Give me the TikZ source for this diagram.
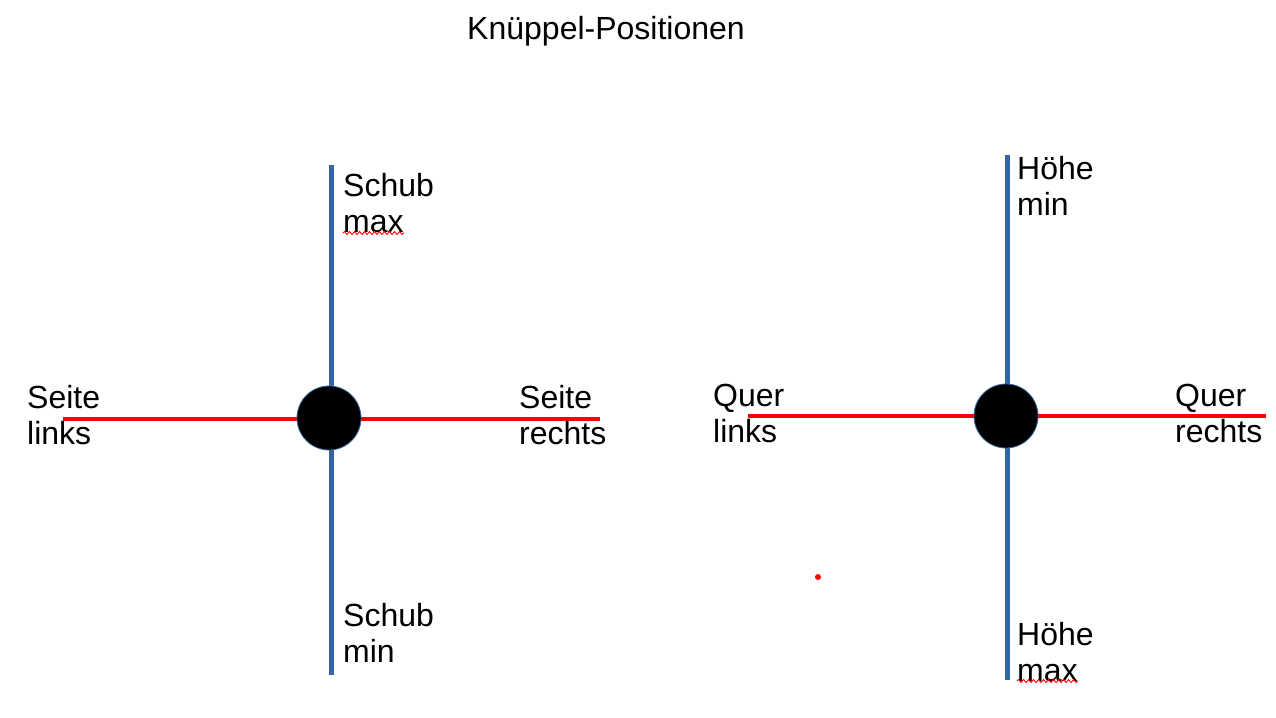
\documentclass[tikz,border=0pt]{standalone}
\usepackage{fontspec}
\setmainfont{Liberation Sans}
\usetikzlibrary{decorations.pathmorphing}
\definecolor{axisblue}{HTML}{3465A4}
\definecolor{axisred}{HTML}{FF0000}
\begin{document}
\begin{tikzpicture}[x=1pt,y=-1pt,
  lbl/.style={anchor=north west, inner sep=0pt, align=left, font=\fontsize{32}{36}\selectfont},
  vaxis/.style={draw=axisblue, line width=5pt},
  haxis/.style={draw=axisred, line width=4.5pt},
  knob/.style={circle, fill=black, draw=axisblue, line width=0.8pt, minimum size=64pt, inner sep=0pt},
  spell/.style={draw=axisred, line width=0.9pt, decorate, decoration={snake, amplitude=1.5pt, segment length=5pt}}]
\useasboundingbox (0,0) rectangle (1276,717);
\node[anchor=north, inner sep=0pt, font=\fontsize{32}{36}\selectfont] (title) at (606,16) {Knüppel-Positionen};
% left stick
\coordinate (lt) at (331,165);
\coordinate (lb) at (331,675);
\coordinate (ll) at (63,419);
\coordinate (lr) at (600,419);
\draw[vaxis] (lt) -- (lb);
\draw[haxis] (ll) -- (lr);
\node[knob] (lk) at (329,418) {};
% right stick
\coordinate (rt) at (1007,155);
\coordinate (rb) at (1007,680);
\coordinate (rl) at (748,416);
\coordinate (rr) at (1266,416);
\draw[vaxis] (rt) -- (rb);
\draw[haxis] (rl) -- (rr);
\node[knob] (rk) at (1006,416) {};
% labels
\node[lbl] (smax) at (343,173) {Schub\\max};
\node[lbl] (smin) at (343,603) {Schub\\min};
\node[lbl] (sl) at (27,385) {Seite\\links};
\node[lbl] (sr) at (519,385) {Seite\\rechts};
\node[lbl] (ql) at (713,384) {Quer\\links};
\node[lbl] (qr) at (1175,384) {Quer\\rechts};
\node[lbl] (hmin) at (1017,156) {Höhe\\min};
\node[lbl] (hmax) at (1017,622) {Höhe\\max};
% spell-check marks
\coordinate (w1a) at (343,233);
\coordinate (w1b) at (404,233);
\coordinate (w2a) at (1017,681);
\coordinate (w2b) at (1078,681);
\draw[spell] (w1a) -- (w1b);
\draw[spell] (w2a) -- (w2b);
% stray dot
\node[circle, fill=axisred, inner sep=0pt, minimum size=6pt] (dot) at (818,577) {};
\end{tikzpicture}
\end{document}
